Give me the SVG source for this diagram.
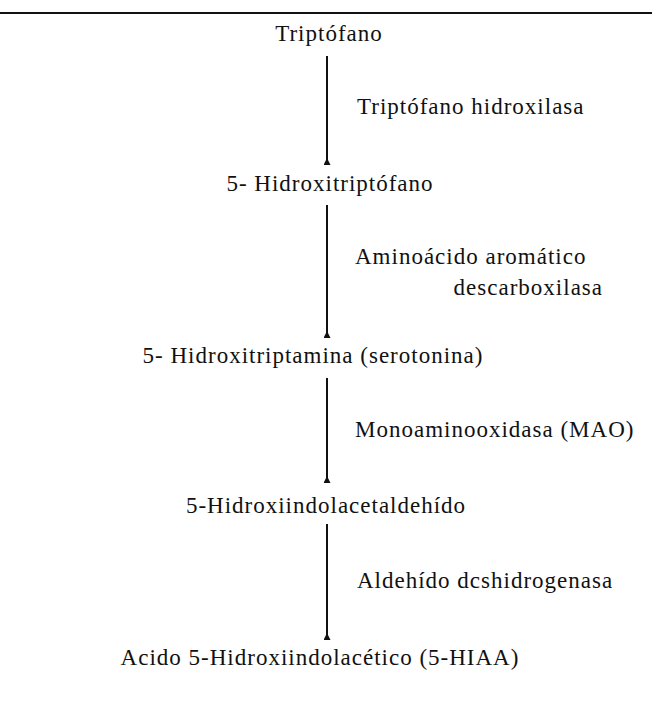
<svg xmlns="http://www.w3.org/2000/svg" width="652" height="705" viewBox="0 0 652 705">
<style>
text{font-family:"Liberation Serif","Times New Roman",serif;font-size:23px;fill:#111;letter-spacing:1px}
.c{text-anchor:middle}
.conn line{stroke:#111;stroke-width:2}
.rule{stroke:#111;stroke-width:2}
</style>
<defs>
<marker id="tri" viewBox="0 0 10 10" refX="5" refY="10" markerWidth="7" markerHeight="8" markerUnits="userSpaceOnUse" orient="0">
<path d="M5 0 L10 10 L0 10 Z" fill="#111"/>
</marker>
</defs>
<line class="rule" x1="0" y1="13" x2="652" y2="13"/>
<g class="conn">
<line x1="327" y1="56" x2="327" y2="165" marker-end="url(#tri)"/>
<line x1="327" y1="205" x2="327" y2="338" marker-end="url(#tri)"/>
<line x1="327" y1="378" x2="327" y2="483" marker-end="url(#tri)"/>
<line x1="327" y1="524" x2="327" y2="640" marker-end="url(#tri)"/>
</g>
<g id="n1"><text class="c" x="329" y="41">Triptófano</text></g>
<g id="n2"><text class="c" x="330" y="191">5- Hidroxitriptófano</text></g>
<g id="n3"><text class="c" x="313" y="363">5- Hidroxitriptamina (serotonina)</text></g>
<g id="n4"><text class="c" x="326" y="513">5-Hidroxiindolacetaldehído</text></g>
<g id="n5"><text class="c" x="320" y="665">Acido 5-Hidroxiindolacético (5-HIAA)</text></g>
<g id="labels">
<text x="357" y="114">Triptófano hidroxilasa</text>
<text x="355" y="264">Aminoácido aromático</text>
<text x="603" y="295" text-anchor="end">descarboxilasa</text>
<text x="355" y="437">Monoaminooxidasa (MAO)</text>
<text x="357" y="588">Aldehído dcshidrogenasa</text>
</g>
</svg>
